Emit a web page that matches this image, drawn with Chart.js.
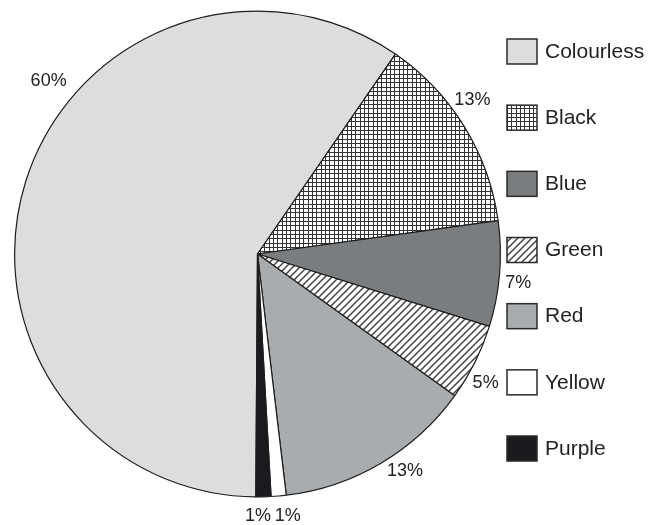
<!DOCTYPE html>
<html>
<head>
<meta charset="utf-8">
<script src="https://cdn.jsdelivr.net/npm/chart.js@4/dist/chart.umd.min.js"></script>
<style>
  body { margin: 0; background: #fff; }
  canvas { display: block; }
</style>
</head>
<body>
<canvas id="colourChart" width="651" height="525"></canvas>
<script>
// data (share of cards by colour, %)
const colourNames = ["Colourless", "Black", "Blue", "Green", "Red", "Yellow", "Purple"];
const colourShares = [59.5, 13.2, 7.0, 5.1, 13.2, 1.0, 1.0];

// where the % labels sit: angle clockwise from top (deg) and distance in radii
const labelAngles = [309.6, 54.4, 96.3, 119.4, 145.8, 173.4, 179.9];
const labelDist = [1.116, 1.088, 1.08, 1.078, 1.08, 1.087, 1.08];

// hatch fills like the original
function gridPattern() {
	const s = 4.3;
	const c = document.createElement("canvas");
	c.width = 13; c.height = 13;
	const g = c.getContext("2d");
	g.fillStyle = "#fff";
	g.fillRect(0, 0, 13, 13);
	g.fillStyle = "#333";
	for (let k = 0; k < 3; k++) {
		const p = Math.round(k * s);
		g.fillRect(0, p, 13, 1);
		g.fillRect(p, 0, 1, 13);
	}
	return g.createPattern(c, "repeat");
}

function diagPattern() {
	const s = 7;
	const c = document.createElement("canvas");
	c.width = s; c.height = s;
	const g = c.getContext("2d");
	g.fillStyle = "#fff";
	g.fillRect(0, 0, s, s);
	g.strokeStyle = "#444";
	g.lineWidth = 1.5;
	g.beginPath();
	g.moveTo(-1, s + 1); g.lineTo(s + 1, -1);
	g.moveTo(-1, 1); g.lineTo(1, -1);
	g.moveTo(s - 1, s + 1); g.lineTo(s + 1, s - 1);
	g.stroke();
	return g.createPattern(c, "repeat");
}

const fills = ["#dcdddd", gridPattern(), "#7a7d7f", diagPattern(), "#a9acae", "#ffffff", "#1b1a1f"];

// % labels + legend on the right
const extrasPlugin = {
	id: "extras",
	afterDraw(chart) {
		const ctx = chart.ctx;
		const meta = chart.getDatasetMeta(0);
		const total = colourShares.reduce((a, b) => a + b, 0);
		ctx.save();
		ctx.fillStyle = "#222";
		ctx.textAlign = "center";
		ctx.textBaseline = "middle";
		ctx.font = "18px 'Liberation Sans', Arial, sans-serif";
		meta.data.forEach((arc, i) => {
			const a = (labelAngles[i] - 90) * Math.PI / 180;
			const r = arc.outerRadius * labelDist[i];
			const txt = Math.round(colourShares[i] / total * 100) + "%";
			ctx.fillText(txt, arc.x + Math.cos(a) * r, arc.y + Math.sin(a) * r);
		});

		// legend
		const lx = chart.chartArea.right + 6;
		ctx.textAlign = "left";
		ctx.font = "21px 'Liberation Sans', Arial, sans-serif";
		colourNames.forEach((name, i) => {
			const top = 39 + i * 66.17;
			ctx.fillStyle = fills[i];
			ctx.fillRect(lx, top, 30, 25);
			ctx.strokeStyle = "#2a2a2a";
			ctx.lineWidth = 1.5;
			ctx.strokeRect(lx, top, 30, 25);
			ctx.fillStyle = "#222";
			ctx.fillText(name, lx + 38, top + 13);
		});
		ctx.restore();
	},
};

const ctx = document.getElementById("colourChart").getContext("2d");

new Chart(ctx, {
	type: "pie",
	data: {
		labels: colourNames,
		datasets: [
			{
				data: colourShares,
				backgroundColor: fills,
				borderColor: "#1e1e1e",
				borderWidth: 1.2,
			},
		],
	},
	options: {
		responsive: false,
		animation: false,
		events: [],
		rotation: 180.4,
		layout: {
			padding: { left: 14, right: 150, top: 10, bottom: 27 },
		},
		plugins: {
			legend: { display: false },
			tooltip: { enabled: false },
		},
	},
	plugins: [extrasPlugin],
});
</script>
</body>
</html>
